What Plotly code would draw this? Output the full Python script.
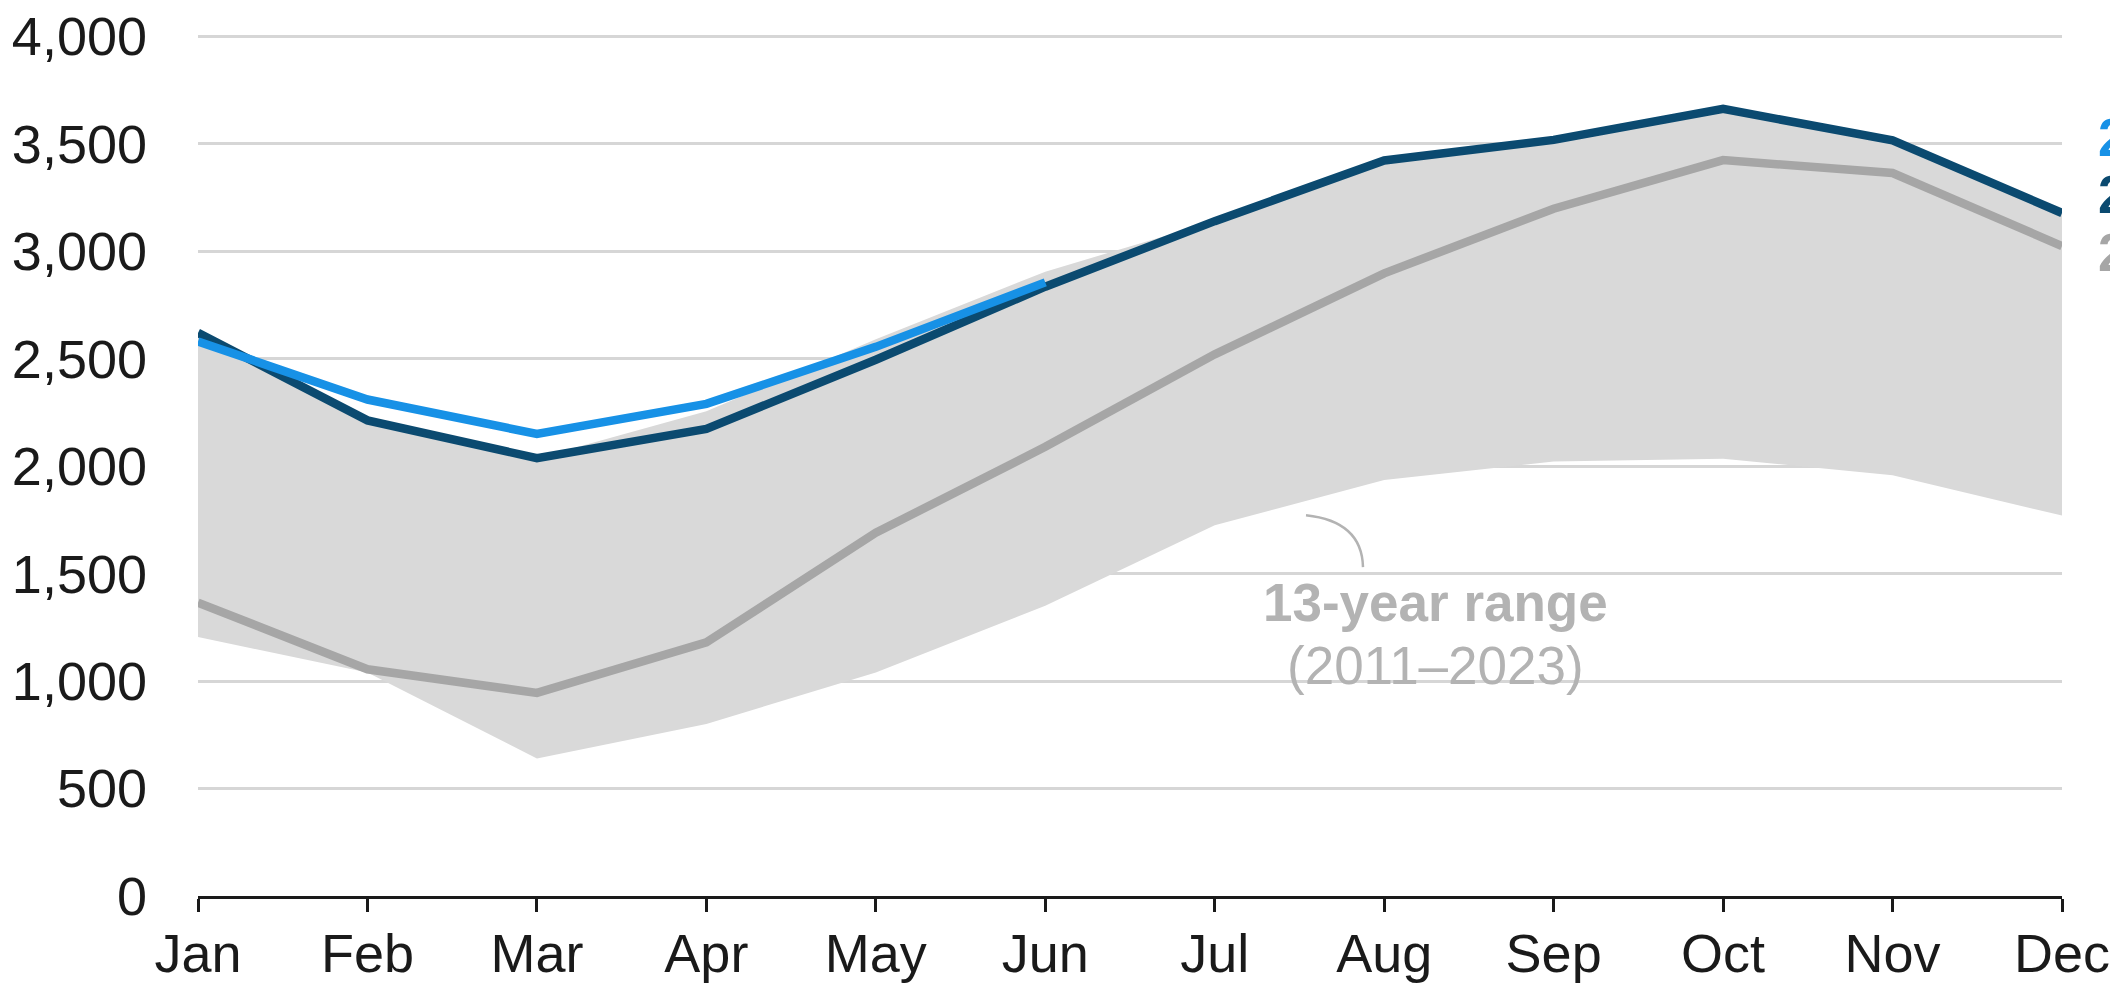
import plotly.graph_objects as go

months = ["Jan", "Feb", "Mar", "Apr", "May", "Jun", "Jul", "Aug", "Sep", "Oct", "Nov", "Dec"]
y2024 = [2580, 2310, 2150, 2290, 2555, 2855]
y2023 = [2620, 2213, 2037, 2173, 2495, 2835, 3140, 3422, 3518, 3662, 3516, 3178]
y2022 = [1365, 1055, 945, 1180, 1690, 2090, 2520, 2897, 3198, 3424, 3364, 3024]
range_max = [2620, 2213, 2037, 2255, 2590, 2905, 3140, 3422, 3518, 3662, 3516, 3178]
range_min = [1205, 1040, 640, 800, 1040, 1350, 1725, 1935, 2022, 2035, 1958, 1770]
yticks = [0, 500, 1000, 1500, 2000, 2500, 3000, 3500, 4000]
series_labels = ["2024", "2023", "2022"]
label_values = [3530, 3265, 2995]

C_LIGHT = "#1791e6"
C_DARK = "#0b4a70"
C_GRAY = "#a6a6a6"
C_BAND = "#d9d9d9"
C_NOTE = "#b3b3b3"
FONT = "Liberation Sans, Arial, sans-serif"

xi = list(range(len(months)))

fig = go.Figure()
fig.add_trace(go.Scatter(x=xi, y=range_min, mode="lines", line=dict(width=0, color=C_BAND),
                         hoverinfo="skip", showlegend=False))
fig.add_trace(go.Scatter(x=xi, y=range_max, mode="lines", line=dict(width=0, color=C_BAND),
                         fill="tonexty", fillcolor=C_BAND, hoverinfo="skip", showlegend=False))
fig.add_trace(go.Scatter(x=xi, y=y2022, mode="lines", line=dict(width=8.5, color=C_GRAY), showlegend=False))
fig.add_trace(go.Scatter(x=xi, y=y2023, mode="lines", line=dict(width=8.5, color=C_DARK), showlegend=False))
fig.add_trace(go.Scatter(x=xi[:len(y2024)], y=y2024, mode="lines", line=dict(width=8.5, color=C_LIGHT),
                         showlegend=False))

# page geometry: 0 at y=896, 4000 at y=36 on the 2118x986 page; x from 198 (Jan) to 2062 (Dec).
# The HTML body has an 8px default margin, so the figure is offset by 8px.
OFF = 8
YTOP = 4020
PL, PR, PB = 198, 2062, 896
scale = (PB - 36) / 4000
PT = PB - YTOP * scale
W, H = 2118 - OFF, 986 - OFF
L, T = PL - OFF, PT - OFF
R = W - (PR - OFF)
B = H - (PB - OFF)
pw, ph = PR - PL, PB - PT

def px(x):
    return (x - PL) / pw

def py(y):
    return (PB - y) / ph

# white box behind range note (interrupts gridlines)
fig.add_shape(type="rect", xref="paper", yref="paper", x0=px(1183), x1=px(1677), y0=py(725), y1=py(525),
              fillcolor="white", line=dict(width=0), layer="between")
# curved connector
fig.add_shape(type="path", xref="paper", yref="paper",
              path=f"M {px(1306)},{py(515)} Q {px(1362)},{py(521)} {px(1363)},{py(567)}",
              line=dict(color=C_NOTE, width=2.5))

fig.add_annotation(xref="paper", yref="paper", x=px(1435), y=py(602), text="<b>13-year range</b>",
                   showarrow=False, font=dict(family=FONT, size=53, color=C_NOTE), xanchor="center", yanchor="middle")
fig.add_annotation(xref="paper", yref="paper", x=px(1435), y=py(665), text="(2011–2023)",
                   showarrow=False, font=dict(family=FONT, size=53, color=C_NOTE), xanchor="center", yanchor="middle")

label_c = [C_LIGHT, C_DARK, C_GRAY]
for t, yv, c in zip(series_labels, label_values, label_c):
    fig.add_annotation(xref="paper", yref="y", x=px(2096), y=yv, text=f"<b>{t}</b>", showarrow=False,
                       xanchor="left", yanchor="middle", font=dict(family=FONT, size=53, color=c))

fig.update_layout(
    width=W, height=H,
    margin=dict(l=L, r=R, t=T, b=B, pad=0, autoexpand=False),
    paper_bgcolor="white", plot_bgcolor="white",
    font=dict(family=FONT, size=54, color="#1a1a1a"),
    showlegend=False,
    xaxis=dict(range=[0, 11], tickmode="array", tickvals=xi, ticktext=months,
               showgrid=False, showline=True, linecolor="#1a1a1a", linewidth=2.5,
               ticks="outside", ticklen=13, tickwidth=2.5, tickcolor="#1a1a1a",
               ticklabelstandoff=-5, ticklabeloverflow="allow",
               zeroline=False, fixedrange=True, automargin=False),
    yaxis=dict(range=[0, YTOP], tickmode="array", tickvals=yticks,
               ticktext=[f"{v:,}" for v in yticks],
               showgrid=True, gridcolor="#d6d6d6", gridwidth=2.5,
               showline=False, zeroline=False, ticks="", ticklabelstandoff=50,
               ticklabeloverflow="allow",
               fixedrange=True, automargin=False),
)

fig.write_html("out.html", config={"displayModeBar": False})
